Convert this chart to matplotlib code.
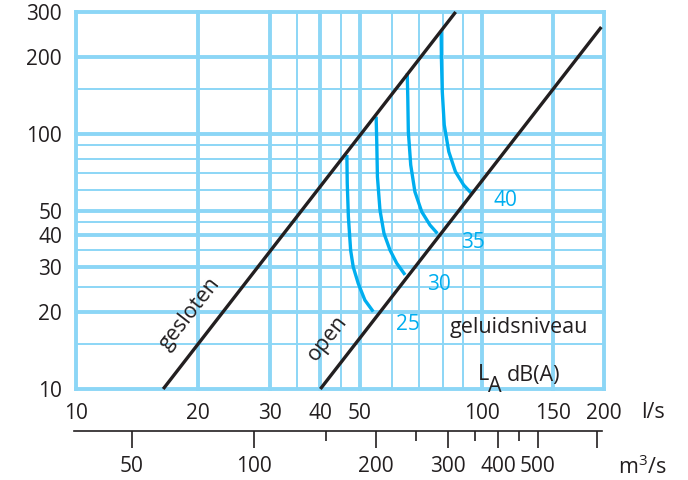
import matplotlib
matplotlib.use("Agg")
import matplotlib.pyplot as plt
from matplotlib.ticker import NullLocator

plt.rcParams["font.family"] = ["Open Sans", "DejaVu Sans"]
plt.rcParams["mathtext.fontset"] = "custom"
plt.rcParams["mathtext.rm"] = "Open Sans"
plt.rcParams["mathtext.it"] = "Open Sans"

# axis ticks (l/s horizontally, Pa vertically)
x_ticks = [10, 20, 30, 40, 50, 100, 150, 200]
y_ticks = [10, 20, 30, 40, 50, 100, 200, 300]
x_grid_thin = [35, 45, 60, 70, 80, 90]
y_grid_thin = [15, 25, 35, 45, 60, 70, 80, 90, 150]

# secondary scale in m3/h
m3_major = [50, 100, 200, 300, 400, 500, 700]
m3_labels = ["50", "100", "200", "300", "400", "500", ""]
m3_minor = [150, 250, 350, 450]

# valve characteristics
gesloten_q = [16.4, 86.2]
gesloten_p = [10, 300]
open_q = [40, 197]
open_p = [10, 262]

# sound level curves, dB(A)
levels = [25, 30, 35, 40]
curve_q = {
    25: [46.5, 46.6, 46.9, 47.5, 48.2, 49.6, 51.5, 54.0],
    30: [54.9, 55.1, 55.3, 56.1, 57.4, 59.4, 61.7, 64.7],
    35: [65.5, 65.7, 65.9, 66.8, 68.4, 71.1, 74.5, 77.7],
    40: [79.4, 79.5, 79.9, 80.8, 82.9, 86.1, 90.2, 94.2],
}
curve_p = {
    25: [82.6, 64.0, 47.3, 35.0, 30.1, 25.9, 22.3, 20.1],
    30: [116.7, 91.8, 67.9, 50.3, 40.7, 35.0, 31.1, 28.0],
    35: [172.6, 137.8, 101.9, 75.5, 59.3, 49.5, 43.9, 40.7],
    40: [251.2, 197.6, 146.2, 108.3, 85.1, 71.0, 63.0, 58.5],
}

GRID = "#8cd6f6"
BLUE = "#00aeef"
BLACK = "#231f20"
W, H = 688, 480
FS = 15      # numbers
FW = 15.5    # words


def px(x, y):
    # pixel position -> figure fraction
    return x / W, 1 - y / H


fig = plt.figure(figsize=(W / 100, H / 100), dpi=100)
ax = fig.add_axes([76 / W, 91 / H, 528 / W, 377 / H])
ax.set_xscale("log")
ax.set_yscale("log")
ax.set_xlim(10, 200)
ax.set_ylim(10, 300)
for s in ax.spines.values():
    s.set_visible(False)

for v in x_grid_thin:
    ax.axvline(v, color=GRID, lw=1.4, zorder=1)
for v in y_grid_thin:
    ax.axhline(v, color=GRID, lw=1.4, zorder=1)
for v in x_ticks:
    ax.axvline(v, color=GRID, lw=2.8, zorder=1, clip_on=False)
for v in y_ticks:
    ax.axhline(v, color=GRID, lw=2.8, zorder=1, clip_on=False)

for lv in levels:
    ax.plot(curve_q[lv], curve_p[lv], color=BLUE, lw=2.4, zorder=3,
            solid_capstyle="butt")
ax.plot(gesloten_q, gesloten_p, color=BLACK, lw=2.4, zorder=4,
        clip_on=False, solid_capstyle="butt")
ax.plot(open_q, open_p, color=BLACK, lw=2.4, zorder=4,
        clip_on=False, solid_capstyle="butt")

ax.xaxis.set_minor_locator(NullLocator())
ax.yaxis.set_minor_locator(NullLocator())
ax.set_xticks(x_ticks, [str(v) for v in x_ticks])
ax.set_yticks(y_ticks, [str(v) for v in y_ticks])
ax.tick_params(axis="x", length=0, pad=10, labelsize=FS, colors=BLACK)
ax.tick_params(axis="y", length=0, pad=10, labelsize=FS, colors=BLACK)

# lower m3 scale
ax2 = fig.add_axes([74 / W, (H - 431) / H, 528 / W, 0.0001])
ax2.set_xscale("log")
ax2.set_xlim(10 * 3.6, 200 * 3.6)
ax2.patch.set_visible(False)
for k in ["top", "left", "right"]:
    ax2.spines[k].set_visible(False)
ax2.spines["bottom"].set_color(BLACK)
ax2.spines["bottom"].set_linewidth(1.2)
ax2.set_yticks([])
ax2.set_xticks(m3_major, m3_labels)
ax2.set_xticks(m3_minor, minor=True)
ax2.xaxis.set_minor_formatter(plt.NullFormatter())
ax2.tick_params(axis="x", which="major", length=12, width=1.2, pad=6,
                labelsize=FS, colors=BLACK)
ax2.tick_params(axis="x", which="minor", length=7, width=1.2, colors=BLACK)

# texts
fig.text(*px(653, 412), "l/s", fontsize=FW, color=BLACK, ha="center", va="center")
fig.text(*px(642, 467), "m$^3$/s", fontsize=FW, color=BLACK, ha="center", va="center")

for lv, (tx, ty) in zip(levels, [(408, 324), (439, 285), (473, 243), (505, 201)]):
    fig.text(*px(tx, ty), str(lv), fontsize=FS, color=BLUE, ha="center", va="center")

fig.text(*px(190, 314), "gesloten", fontsize=FW, color=BLACK, rotation=52,
         ha="center", va="center", rotation_mode="anchor")
fig.text(*px(327, 338), "open", fontsize=FW, color=BLACK, rotation=52,
         ha="center", va="center", rotation_mode="anchor")
fig.text(*px(519, 327), "geluidsniveau", fontsize=FW, color=BLACK,
         ha="center", va="center")
fig.text(*px(483, 375), "L", fontsize=FW, color=BLACK, ha="center", va="center")
fig.text(*px(495, 387), "A", fontsize=FW, color=BLACK, ha="center", va="center")
fig.text(*px(534, 375), "dB(A)", fontsize=FW, color=BLACK, ha="center", va="center")

fig.savefig("out.png", dpi=100)
